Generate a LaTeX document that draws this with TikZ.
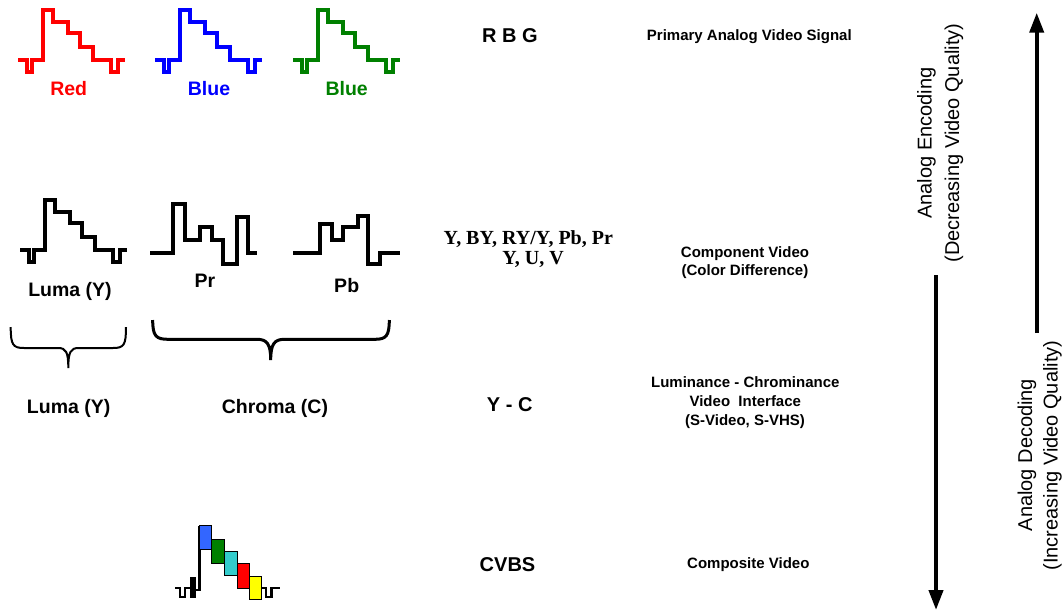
\documentclass[tikz,border=0pt]{standalone}
\usepackage{fontspec}
\setmainfont{Liberation Sans}
\newfontfamily\timesbf{Liberation Serif}[BoldFont={* Bold}]
\usetikzlibrary{arrows.meta}
\definecolor{wred}{RGB}{255,0,0}
\definecolor{wblue}{RGB}{0,0,255}
\definecolor{wgreen}{RGB}{0,128,0}
\definecolor{cvblue}{RGB}{51,102,255}
\definecolor{cvgreen}{RGB}{0,128,0}
\definecolor{cvcyan}{RGB}{51,204,204}
\definecolor{cvred}{RGB}{255,0,0}
\definecolor{cvyellow}{RGB}{255,255,0}
\begin{document}
\begin{tikzpicture}[x=1pt,y=-1pt,
  wv/.style={line width=3.2pt},
  lbl/.style={font=\bfseries\fontsize{19.5}{20}\selectfont, anchor=base, inner sep=0pt},
  big/.style={font=\bfseries\fontsize{20}{20}\selectfont, anchor=base, inner sep=0pt},
  desc/.style={font=\bfseries\fontsize{15}{18}\selectfont, anchor=base, inner sep=0pt},
  ser/.style={font=\timesbf\bfseries\fontsize{20}{20}\selectfont, anchor=base, inner sep=0pt},
  rot/.style={font=\fontsize{20}{26}\selectfont, anchor=base, rotate=90, inner sep=0pt},
  arr/.style={line width=4pt, -{Triangle[length=20pt,width=14pt]}},
  blk/.style={draw=black, line width=0.8pt},
  wave/.pic={\draw[wv,pic actions] (0,0) -- (9,0) -- (9,12) -- (14,12) -- (14,0) -- (25,0) -- (25,-50) -- (35,-50) -- (35,-38) -- (50,-38) -- (50,-27) -- (62,-27) -- (62,-13) -- (75,-13) -- (75,0) -- (93,0) -- (93,12) -- (100,12) -- (100,0) -- (107,0);}
]
\useasboundingbox (0,0) rectangle (1062,611);
\fill[white] (0,0) rectangle (1062,611);

% RGB waveforms
\pic[color=wred] at (18,60) {wave};
\pic[color=wblue] at (155,60) {wave};
\pic[color=wgreen] at (293,60) {wave};
\node[lbl, text=wred] (lred) at (68.7,95) {Red};
\node[lbl, text=wblue] (lblue) at (209,95) {Blue};
\node[lbl, text=wgreen] (lgreen) at (346.7,95) {Blue};

% component waveforms
\pic[color=black] at (20,250) {wave};
\draw[wv] (150,253) -- (173,253) -- (173,204) -- (185,204) -- (185,240) -- (200,240) -- (200,227) -- (212,227) -- (212,240) -- (223,240) -- (223,264) -- (237,264) -- (237,217) -- (248,217) -- (248,253) -- (257,253);
\draw[wv] (293,253) -- (320,253) -- (320,224) -- (332,224) -- (332,240) -- (343,240) -- (343,227) -- (358,227) -- (358,216) -- (368,216) -- (368,264) -- (380,264) -- (380,253) -- (400,253);
\node[lbl] (luma1) at (70,296) {Luma (Y)};
\node[lbl] (pr) at (205,287) {Pr};
\node[lbl] (pb) at (346.7,292) {Pb};

% braces
\draw[line width=2pt] (10.7,327) .. controls (10.7,345) and (13,348) .. (24,348) -- (58,348)
  .. controls (66,348) and (68.3,352) .. (68.3,368)
  .. controls (68.3,352) and (70.6,348) .. (78.6,348) -- (113,348)
  .. controls (124,348) and (126,345) .. (126,327);
\draw[line width=3pt] (152.7,320) .. controls (152.7,336) and (156,339.3) .. (168,339.3) -- (257,339.3)
  .. controls (267,339.3) and (270.7,344) .. (270.7,360)
  .. controls (270.7,344) and (274.4,339.3) .. (284.4,339.3) -- (375,339.3)
  .. controls (386,339.3) and (389.3,336) .. (389.3,320);
\node[lbl] (luma2) at (68.7,413) {Luma (Y)};
\node[lbl] (chroma) at (275,413) {Chroma (C)};

% CVBS waveform
\draw[line width=2.5pt] (175,588) -- (180,588) -- (180,597) -- (185,597) -- (185,588) -- (191,588);
\fill[black] (189.5,577) rectangle (196,597.5);
\draw[line width=2.5pt] (195,590) -- (199.3,590) -- (199.3,526);
\draw[line width=2.5pt] (260,588) -- (266,588) -- (266,597) -- (271.7,597) -- (271.7,588) -- (280,588);
\filldraw[blk, fill=cvblue] (199.3,525.7) rectangle (211.7,549.3);
\filldraw[blk, fill=cvgreen] (211.7,539.3) rectangle (224,563.3);
\filldraw[blk, fill=cvcyan] (224,551.7) rectangle (237.3,575);
\filldraw[blk, fill=cvred] (237.3,563.3) rectangle (249.3,588.3);
\filldraw[blk, fill=cvyellow] (249.3,576.7) rectangle (261,599.3);

% middle column
\node[big] (rbg) at (510,42.7) {R B G};
\node[ser] (ybr1) at (528.3,244) {Y, BY, RY/Y, Pb, Pr};
\node[ser] (ybr2) at (533,264.3) {Y, U, V};
\node[big] (yc) at (509.7,411) {Y - C};
\node[big] (cvbs) at (507.5,571.7) {CVBS};

% right descriptions
\node[desc] (prim) at (749.3,40.7) {Primary Analog Video Signal};
\node[desc] (comp1) at (745,257.3) {Component Video};
\node[desc] (comp2) at (745,275) {(Color Difference)};
\node[desc] (lc1) at (745.3,387.7) {Luminance - Chrominance};
\node[desc] (lc2) at (745.3,406) {Video~~Interface};
\node[desc] (lc3) at (745,425) {(S-Video, S-VHS)};
\node[desc] (compo) at (748.3,568.3) {Composite Video};

% arrows
\coordinate (encS) at (936,275);
\coordinate (encE) at (936,610);
\coordinate (decS) at (1036.7,333);
\coordinate (decE) at (1036.7,12.7);
\draw[arr] (encS) -- (encE);
\draw[arr] (decS) -- (decE);
\node[rot] (enc1) at (931.7,143) {Analog Encoding};
\node[rot] (enc2) at (959,143) {(Decreasing Video Quality)};
\node[rot] (dec1) at (1032,455) {Analog Decoding};
\node[rot] (dec2) at (1057.7,455.5) {(Increasing Video Quality)};
\end{tikzpicture}
\end{document}
